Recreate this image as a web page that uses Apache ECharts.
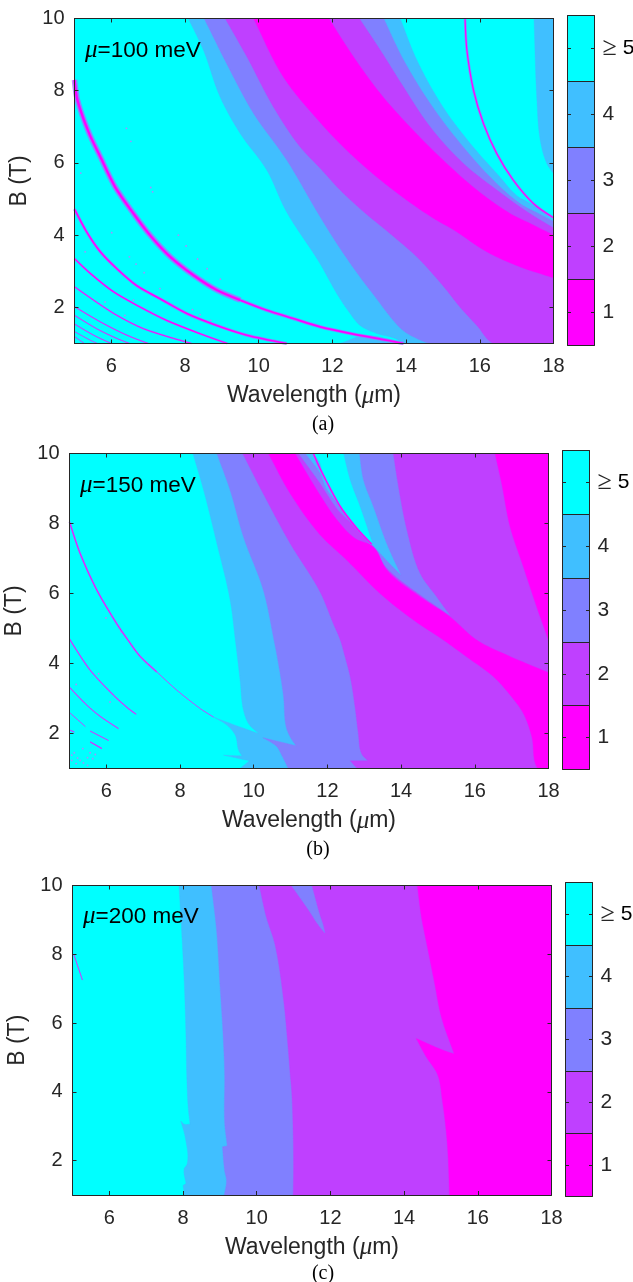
<!DOCTYPE html>
<html><head><meta charset="utf-8">
<style>html,body{margin:0;padding:0;background:#fff}#c{width:633px;height:1282px}</style>
<script src="https://cdn.jsdelivr.net/npm/echarts@6/dist/echarts.min.js"></script>
</head><body><div id="c"></div>
<script>
// ---------- tick labels / categories ----------
const xTicks = [6,8,10,12,14,16,18];
const yTicks = [2,4,6,8,10];
const levelNames = ['1','2','3','4','≥ 5'];
const levelColors = ['#FF00FF','#BF40FF','#8080FF','#40BFFF','#00FFFF'];
const muValues = ['100','150','200'];
const captions = ['(a)','(b)','(c)'];
const fullFrame = [[5,1],[18,1],[18,10],[5,10]];

// ---------- panel (a): region outlines, [wavelength, B] ----------
const a4 = [[8.09,10],[8.5,9.12],[8.95,7.83],[9.5,6.81],[10.22,5.8],[10.73,4.69],[11.67,3.2],[12.12,2.38],[12.48,1.83],[12.75,1.5],[13.2,1.28],[13.75,1.12],[13.93,1],[18,1],[18,4.42],[17.2,4.98],[17.12,5.01],[16.46,5.71],[15.74,6.54],[15,7.55],[14.29,8.85],[13.84,10]];
const a4b = [[12.2,1],[12.9,1.22],[13.93,1]];
const a4r = [[17.47,10],[17.55,7.74],[17.64,6.63],[17.82,5.98],[18,5.7],[18,10]];
const a3 = [[8.52,10],[9.13,8.75],[9.86,7.37],[10.76,6.08],[11.67,4.5],[12.21,3.63],[12.75,2.84],[13.2,2.24],[13.57,1.74],[13.93,1.35],[14.29,1.14],[14.65,1],[18,1],[18,4.38],[17.59,4.6],[17.1,4.87],[16.28,5.61],[15.47,6.54],[14.65,7.65],[13.93,8.85],[13.39,10]];
const a2 = [[9.09,10],[9.68,8.94],[10.4,7.55],[11.12,6.45],[11.67,5.85],[12.21,5.25],[12.8,4.69],[13.57,4.04],[14.29,3.4],[15,2.6],[15.47,2],[15.92,1.5],[16.37,1],[18,1],[18,4.2],[17.28,4.65],[16.46,5.25],[15.56,5.98],[14.65,7],[13.93,8.1],[13.3,9.12],[12.73,10]];
const a1 = [[9.86,10],[10.67,8.38],[11.67,7.12],[12.3,6.44],[13.1,5.7],[14.02,4.97],[14.74,4.47],[15.3,4.14],[16.19,3.54],[17.1,3.12],[18,2.82],[18,4],[17.37,4.32],[16.82,4.6],[15.92,5.25],[15,6.08],[14.1,7],[13.3,7.92],[12.57,8.94],[11.9,10]];
// panel (a): thin resonance lines
const aLineA1 = [[5,8.3],[5.08,7.74],[5.38,6.86],[5.7,6.17],[6.1,5.34],[6.6,4.6],[7.05,4],[7.6,3.4],[8.23,2.89],[8.86,2.48],[9.5,2.2]];
const aLineA2 = [[9.5,2.2],[10.22,1.92],[10.94,1.69],[11.67,1.46],[12.57,1.26],[13.48,1.09],[13.93,1]];
const aLineB = [[5,4.72],[5.33,4.09],[5.7,3.54],[6.15,3.07],[6.69,2.6],[7.32,2.24],[8.05,1.83],[8.86,1.5],[9.68,1.23],[10.76,1]];
const aLineC = [[5,3.35],[5.43,2.94],[6.06,2.43],[6.78,2.01],[7.5,1.64],[8.41,1.27],[9.15,1]];
const aLineD = [[5,2.57],[5.52,2.2],[6.15,1.78],[6.87,1.41],[7.69,1.14],[8.18,1]];
const aLineE = [[5,2.02],[5.7,1.6],[6.42,1.23],[7,1]];
const aLineF = [[5,1.78],[5.6,1.41],[6.15,1.14],[6.5,1]];
const aLineG = [[5,1.54],[5.52,1.23],[6,1]];
const aLineH = [[5,1.33],[5.43,1.09],[5.62,1]];
const aLineI = [[5,1.19],[5.27,1]];
const aLineTop = [[15.6,10],[15.65,9.12],[15.83,8.01],[16.1,7.09],[16.46,6.26],[16.91,5.52],[17.46,4.87],[18,4.48]];
const aSpecks = [[6.41,6.96],[6.53,6.6],[7.07,5.32],[7.12,5.2],[6.01,4.07],[7.82,4],[8.03,3.7],[5.29,3.54],[6.49,3.4],[6.67,3.2],[6.89,2.96],[8.34,3.34],[8.6,3.07],[8.96,2.78],[7.32,2.52],[5.83,2.15],[6.6,2.2],[7.07,1.87],[6.37,1.78],[7.55,1.6],[8.2,1.94],[8.41,1.8],[8.7,1.64],[5.17,5.72]];

// ---------- panel (b) ----------
const b4 = [[8.35,10],[8.64,8.95],[9,7.43],[9.36,5.81],[9.5,4.67],[9.63,3.52],[9.72,2.67],[9.86,2.28],[10.13,2],[9.36,2.29],[8.91,2.47],[9.27,2.24],[9.5,1.95],[9.59,1.52],[9.68,1.36],[9.18,1.38],[9.88,1.22],[9.63,1],[18,1],[18,10],[12.44,10],[12.62,9.24],[12.89,8.48],[13.23,7.43],[12.8,7.86],[12.35,8.48],[11.85,9.43],[11.8,9.71],[11.62,10]];
const b3 = [[9,10],[9.36,8.95],[9.72,7.62],[10.26,6.1],[10.55,4.67],[10.67,4],[10.81,3.05],[10.88,2.19],[10.99,1.9],[11.15,1.65],[10.25,1.88],[10.63,1.62],[10.76,1.38],[10.94,1],[18,1],[18,10],[12.87,10],[12.98,9.24],[13.25,8.48],[13.61,7.43],[14,6.52],[13.6,6.95],[13.2,7.41],[12.8,7.86],[12.35,8.48],[11.98,8.97],[11.8,9.43],[11.4,10]];
const b2 = [[9.7,10],[10.35,8.67],[10.99,7.43],[11.8,6.05],[12.16,5.14],[12.35,4.67],[12.48,4.19],[12.62,3.62],[12.75,2.76],[12.84,2],[12.93,1.42],[13.1,1.22],[12.62,1.22],[12.84,1],[18,1],[18,10],[13.79,10],[13.93,9.05],[14.16,7.81],[14.52,6.57],[14.97,5.9],[15.35,5.35],[14.52,5.95],[13.61,6.72],[13.2,7.35],[12.75,7.9],[12.3,8.36],[11.8,9.14],[11.21,10]];
const b1 = [[10.4,10],[10.99,8.86],[11.8,7.68],[12.53,6.95],[13.43,6],[14.34,5.24],[15.15,4.67],[15.78,4.19],[16.51,3.62],[16.96,3.1],[17.32,2.57],[17.55,1.9],[17.68,1.05],[17.73,1],[18,1],[18,3.74],[16.87,4.24],[16.05,4.67],[15.33,5.33],[14.52,5.9],[13.61,6.67],[13.25,7.33],[12.75,7.57],[12.26,8.1],[11.8,8.81],[11.12,10]];
const b1r = [[16.55,10],[16.73,9.14],[16.96,7.9],[17.32,6.76],[17.68,5.62],[18,4.67],[18,10]];
const bLine1 = [[5,8.05],[5.29,7.14],[5.74,6.1],[6.28,5.14],[6.6,4.65],[6.92,4.2],[7.37,3.76]];
const bLine1b = [[7.37,3.76],[7.91,3.24],[8.55,2.71],[8.91,2.47]];
const bLine2 = [[5,4.7],[5.56,3.81],[6.19,3.1],[6.6,2.71],[6.81,2.55]];
const bLine3 = [[5,3.32],[5.47,2.81],[5.83,2.49],[6.33,2.14]];
const bLine4 = [[5,2.6],[5.43,2.2]];
const bLine4b = [[5.56,2.07],[6.06,1.8]];
const bLine5 = [[5.56,1.76],[5.88,1.57]];
const bLine6 = [[5,2.1],[5.13,2.04]];
const bLineTop = [[11.62,10],[11.8,9.57],[12.35,8.48],[12.8,7.86],[13.2,7.41]];
const bSpecks = [[5.18,3.4],[5.79,3.71],[5.13,1.45],[5.36,1.57],[5.56,1.45],[5.7,1.4],[5.06,1.23],[5.29,1.23],[5.49,1.31],[5.63,1.28],[5.18,1.14],[5.38,1.16],[5.49,1.09],[5.06,1.38],[5.22,1.3],[6.1,2.9],[5.99,5.3],[6.4,4.9],[6.75,4.4]];

// ---------- panel (c) ----------
const c4 = [[7.89,10],[7.96,8.7],[8.03,7.25],[8.08,5.6],[8.1,4.5],[8.14,3.54],[8.19,3.06],[8.03,3.06],[7.94,3.15],[8.06,2.67],[8.11,1.9],[8.03,1.76],[8.08,1.33],[8,1.28],[8.04,1],[18,1],[18,10]];
const c3 = [[8.77,10],[8.91,8.7],[9,7.15],[9.09,5.6],[9.13,4.5],[9.13,3.1],[9.2,2.43],[9.07,2.4],[9.13,1.7],[9.18,1.42],[9.12,1],[18,1],[18,10]];
const c2 = [[10.07,10],[10.26,9.09],[10.49,8.31],[10.72,6.76],[10.85,5.31],[10.91,4.5],[10.95,4],[10.99,2.77],[11,1.76],[10.99,1],[18,1],[18,10]];
const c1 = [[14.36,10],[14.47,9.09],[14.65,8.12],[14.83,7.15],[15.01,6.18],[15.36,5.1],[15.06,5.21],[14.33,5.55],[14.6,5.02],[14.91,4.5],[15.04,3.73],[15.15,2.77],[15.2,2],[15.23,1],[18,1],[18,10]];
const c3w = [[10.94,10],[11.35,9.38],[11.71,8.8],[11.85,8.62],[11.8,8.85],[11.71,9.14],[11.49,10]];
const cLine = [[5.04,7.98],[5.27,7.25]];

// ---------- assembling ----------
const INK = '#262626';
const panels = [
 {grid:[74.5,18.5,479,325], bar:[567.5,15.5,27,330], mu:[85,38], cap:[323,424],
  regions:[[fullFrame,4],[a4,3],[a4b,3],[a4r,3],[a3,2],[a2,1],[a1,0]],
  lines:[[aLineA1,2.4,5.6],[aLineA2,1.6,3.4],[aLineB,1.5,3],[aLineC,1.2,2.2],[aLineD,.9,1.8],[aLineE,.7,1.4],[aLineF,.6,1.2],[aLineG,.6,1.2],[aLineH,.5,1],[aLineI,.5,1],[aLineTop,1.1,2.6]],
  specks:aSpecks},
 {grid:[69.5,453.5,479,315], bar:[562.5,450.5,27,319], mu:[80,473], cap:[318,849],
  regions:[[fullFrame,4],[b4,3],[b3,2],[b2,1],[b1,0],[b1r,0]],
  lines:[[bLine1,.9,2],[bLine1b,.4,1],[bLine2,.7,1.5],[bLine3,.6,1.3],[bLine4,.4,1],[bLine4b,.5,1.1],[bLine5,.8,1.5],[bLine6,.7,1.1],[bLineTop,1.3,2.2]],
  specks:bSpecks},
 {grid:[72.5,885.5,479,309.5], bar:[565.5,882.5,27,314], mu:[83,904], cap:[323,1273],
  regions:[[fullFrame,4],[c4,3],[c3,2],[c2,1],[c1,0],[c3w,2]],
  lines:[[cLine,.6,1]],
  specks:[]}
];

const grid=[], xAxis=[], yAxis=[], series=[], title=[];
const tickFont = {fontFamily:'"Liberation Sans",Arial,sans-serif', fontSize:20, color:INK};
const muRich = {m:{fontFamily:'"Liberation Serif",serif', fontStyle:'italic', fontSize:25, color:'#000'}};
const nameRich = {m:{fontFamily:'"Liberation Serif",serif', fontStyle:'italic', fontSize:25, color:INK}};

// Render-time rounding of an outline: keeps sharp tips, rounds gentle bends.
function roundOutline(pts){
  const n=pts.length, out=[], dir=[];
  for(let i=0;i<n;i++){
    const p=pts[(i-1+n)%n], c=pts[i], q=pts[(i+1)%n];
    let ax=c[0]-p[0], ay=c[1]-p[1], bx=q[0]-c[0], by=q[1]-c[1];
    const la=Math.hypot(ax,ay)||1, lb=Math.hypot(bx,by)||1;
    ax/=la;ay/=la;bx/=lb;by/=lb;
    if(ax*bx+ay*by<0.6){dir.push(null);}
    else{const tx=ax+bx,ty=ay+by,l=Math.hypot(tx,ty)||1;dir.push([tx/l,ty/l]);}
  }
  for(let i=0;i<n;i++){
    const a=pts[i], b=pts[(i+1)%n], L=Math.hypot(b[0]-a[0],b[1]-a[1]);
    const ud=[(b[0]-a[0])/(L||1),(b[1]-a[1])/(L||1)];
    const t0=dir[i]||ud, t1=dir[(i+1)%n]||ud;
    for(let k=0;k<8;k++){
      const s=k/8,s2=s*s,s3=s2*s;
      const h00=2*s3-3*s2+1,h10=s3-2*s2+s,h01=-2*s3+3*s2,h11=s3-s2;
      out.push([h00*a[0]+h10*L*t0[0]+h01*b[0]+h11*L*t1[0],
                h00*a[1]+h10*L*t0[1]+h01*b[1]+h11*L*t1[1]]);
    }
  }
  return out;
}

function polySeries(verts, color, xi, yi){
  return {type:'custom', coordinateSystem:'cartesian2d', xAxisIndex:xi, yAxisIndex:yi, clip:true, silent:true,
    encode:{x:0,y:1}, data:verts, animation:false,
    renderItem:function(params, api){
      if(params.dataIndex!==0) return null;
      return {type:'polygon', shape:{points:roundOutline(verts.map(function(v){return api.coord(v);}))},
              style:{fill:color, stroke:color, lineWidth:.4}};
    }};
}

panels.forEach(function(p,i){
  const gi = grid.length;
  grid.push({left:p.grid[0],top:p.grid[1],width:p.grid[2],height:p.grid[3],containLabel:false,outerBoundsMode:'none'});
  const xi = xAxis.length, yi = yAxis.length;
  const common = {min:5,max:18,type:'value',gridIndex:gi,z:10,splitLine:{show:false},
    axisLine:{show:true,onZero:false,lineStyle:{color:INK,width:1}},
    axisTick:{show:true,inside:true,length:4,lineStyle:{color:INK,width:1},customValues:xTicks}};
  xAxis.push(Object.assign({},common,{position:'bottom',
    name:'Wavelength ({m|μ}m)',nameLocation:'middle',nameGap:40,
    nameTextStyle:Object.assign({},tickFont,{fontSize:23,rich:nameRich}),
    axisLabel:Object.assign({show:true,margin:13,customValues:xTicks,hideOverlap:false},tickFont)}));
  xAxis.push(Object.assign({},common,{position:'top',axisLabel:{show:false}}));
  const ycommon = {min:1,max:10,type:'value',gridIndex:gi,z:10,splitLine:{show:false},
    axisLine:{show:true,onZero:false,lineStyle:{color:INK,width:1}},
    axisTick:{show:true,inside:true,length:4,lineStyle:{color:INK,width:1},customValues:yTicks}};
  yAxis.push(Object.assign({},ycommon,{position:'left',
    name:'B (T)',nameLocation:'middle',nameGap:33,nameRotate:90,
    nameTextStyle:Object.assign({},tickFont,{fontSize:23}),
    axisLabel:Object.assign({show:true,margin:10,customValues:yTicks,hideOverlap:false},tickFont)}));
  yAxis.push(Object.assign({},ycommon,{position:'right',axisLabel:{show:false}}));

  p.regions.forEach(function(r){ series.push(polySeries(r[0],levelColors[r[1]],xi,yi)); });
  p.lines.forEach(function(l){
    const base={type:'line',xAxisIndex:xi,yAxisIndex:yi,data:l[0],showSymbol:false,symbol:'none',smooth:.3,silent:true,animation:false,clip:true};
    series.push(Object.assign({},base,{lineStyle:{color:'#A868FF',width:l[2],opacity:.75}}));
    series.push(Object.assign({},base,{lineStyle:{color:'#FF00FF',width:l[1]}}));
  });
  if(p.specks.length) series.push({type:'scatter',xAxisIndex:xi,yAxisIndex:yi,data:p.specks,symbolSize:1.8,silent:true,animation:false,
    itemStyle:{color:'#D070FF'}});

  // colour bar
  const bg = grid.length;
  grid.push({left:p.bar[0],top:p.bar[1],width:p.bar[2],height:p.bar[3],containLabel:false,outerBoundsMode:'none'});
  const bxi = xAxis.length, byi = yAxis.length;
  xAxis.push({type:'value',gridIndex:bg,min:0,max:1,show:false});
  const catCommon = {type:'category',gridIndex:bg,data:levelNames,z:10,boundaryGap:true,
    axisLine:{show:true,onZero:false,lineStyle:{color:INK,width:1}},
    axisTick:{show:true,inside:true,length:3.5,alignWithLabel:true,lineStyle:{color:INK,width:1}}};
  yAxis.push(Object.assign({},catCommon,{position:'right',
    splitLine:{show:true,lineStyle:{color:INK,width:1}},
    axisLabel:{show:true,margin:8,interval:0,align:'left',color:INK,fontFamily:'"Liberation Sans",sans-serif',fontSize:21,
      formatter:function(v){ return v.charAt(0)==='≥' ? '{g|≥}{s|}{d|5}' : '{d2|'+v+'}'; },
      rich:{g:{fontFamily:'"Liberation Serif",serif',fontSize:26,color:INK},s:{width:6},
            d:{fontFamily:'"Liberation Sans",sans-serif',fontSize:21,color:'#000'},
            d2:{fontFamily:'"Liberation Sans",sans-serif',fontSize:21,color:INK}}}}));
  yAxis.push(Object.assign({},catCommon,{position:'left',splitLine:{show:false},axisLabel:{show:false}}));
  series.push({type:'bar',xAxisIndex:bxi,yAxisIndex:byi,barWidth:'100%',silent:true,animation:false,
    data:levelNames.map(function(n,k){return {value:1,itemStyle:{color:levelColors[k]}};})});

  title.push({text:'{m|μ}='+muValues[i]+' meV',left:p.mu[0],top:p.mu[1],padding:0,
    textStyle:{fontFamily:'"Liberation Sans",sans-serif',fontSize:22.5,fontWeight:'normal',color:'#000',rich:muRich}});
  title.push({text:captions[i],left:p.cap[0],top:p.cap[1]-9,textAlign:'center',padding:0,
    textStyle:{fontFamily:'"Liberation Serif",serif',fontSize:20,fontWeight:'normal',color:'#000'}});
});

const chart = echarts.init(document.getElementById('c'),null,{renderer:'canvas'});
chart.setOption({animation:false,backgroundColor:'#fff',grid,xAxis,yAxis,series,title});
</script></body></html>
